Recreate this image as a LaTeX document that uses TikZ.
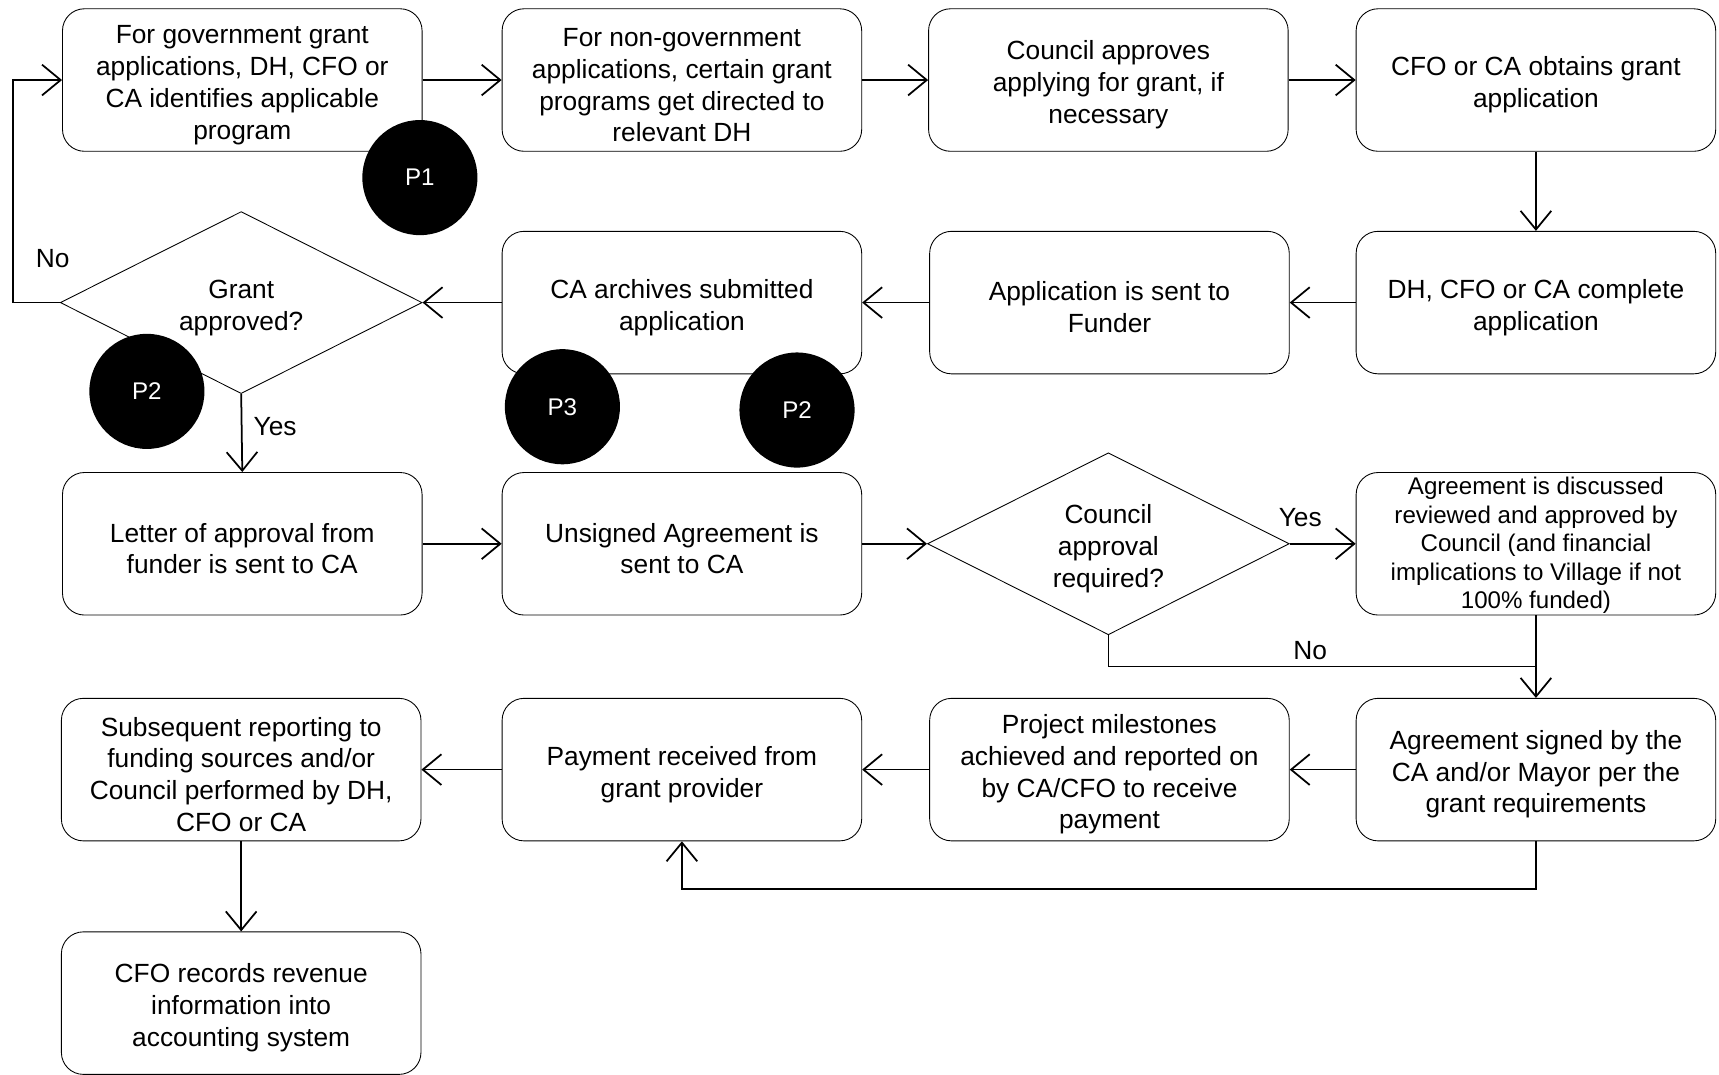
\documentclass[tikz,border=0pt]{standalone}
\usepackage{fontspec}
\setmainfont{Liberation Sans}
\usetikzlibrary{shapes.geometric,arrows.meta}
\newcommand{\topgap}{26pt}

\begin{document}
\begin{tikzpicture}[x=1pt,y=-1pt,
  box/.style={draw,rounded corners=20pt,minimum width=328pt,minimum height=130pt,
    inner sep=0pt,text width=320pt,align=flush center,line width=0.8pt,
    font=\fontsize{24}{29}\selectfont,
    execute at begin node={\noindent\rule{0pt}{\topgap}}},
  dec/.style={draw,diamond,aspect=2,minimum width=330pt,minimum height=166pt,
    inner sep=0pt,text width=150pt,align=flush center,line width=0.8pt,
    font=\fontsize{24}{29}\selectfont,
    execute at begin node={\noindent\rule{0pt}{\topgap}}},
  pnt/.style={circle,fill=black,minimum size=105pt,inner sep=0pt,text=white,
    font=\fontsize{22}{26}\selectfont},
  lbl/.style={font=\fontsize{24}{29}\selectfont},
  flow/.style={-{Straight Barb[length=17pt,width=28pt]},line width=1.6pt}]
\useasboundingbox (0,0) rectangle (1568,980);

% First row
\node[box] (ident) at (221,73) {For government grant\\applications, DH, CFO or\\CA identifies applicable\\program};
\node[box] (nongov) at (622,73) {For non-government\\applications, certain grant\\programs get directed to\\relevant DH};
\node[box] (council) at (1011,73) {Council approves\\applying for grant, if\\necessary};
\node[box] (obtain) at (1401,73) {CFO or CA obtains grant\\application};

% Second row
\node[dec] (granted) at (220,276) {Grant\\approved?};
\node[box] (archive) at (622,276) {CA archives submitted\\application};
\node[box] (sent) at (1012,276) {Application is sent to\\Funder};
\node[box] (complete) at (1401,276) {DH, CFO or CA complete\\application};

% Third row
\node[box] (letter) at (221,496) {Letter of approval from\\funder is sent to CA};
\node[box] (unsigned) at (622,496) {Unsigned Agreement is\\sent to CA};
\node[dec] (needed) at (1011,496) {Council\\approval\\required?};
\node[box,font=\fontsize{22}{26}\selectfont\def\topgap{19pt}] (discuss) at (1401,496) {Agreement is discussed\\reviewed and approved by\\Council (and financial\\implications to Village if not\\100\% funded)};

% Fourth row
\node[box] (report) at (220,702) {Subsequent reporting to\\funding sources and/or\\Council performed by DH,\\CFO or CA};
\node[box] (payment) at (622,702) {Payment received from\\grant provider};
\node[box] (milestone) at (1012,702) {Project milestones\\achieved and reported on\\by CA/CFO to receive\\payment};
\node[box] (signed) at (1401,702) {Agreement signed by the\\CA and/or Mayor per the\\grant requirements};

% Last box
\node[box] (records) at (220,915) {CFO records revenue\\information into\\accounting system};

% Connectors
\coordinate (noturn) at (12,276);
\coordinate (join) at (1401,608);
\coordinate (back) at (1401,811);
\draw[flow] (ident) -- (nongov);
\draw[flow] (nongov) -- (council);
\draw[flow] (council) -- (obtain);
\draw[flow] (obtain) -- (complete);
\draw[flow] (complete) -- (sent);
\draw[flow] (sent) -- (archive);
\draw[flow] (archive) -- (granted);
\draw[flow] (granted.west) -- (noturn) |- (ident.west);
\draw[flow] (granted.south) -- (letter.north);
\draw[flow] (letter) -- (unsigned);
\draw[flow] (unsigned) -- (needed);
\draw[flow] (needed.east) -- (discuss.west);
\draw[line width=0.8pt] (needed.south) |- (join);
\draw[flow] (discuss) -- (signed);
\draw[flow] (signed) -- (milestone);
\draw[flow] (milestone) -- (payment);
\draw[flow] (payment) -- (report);
\draw[flow] (signed.south) -- (back) -| (payment.south);
\draw[flow] (report) -- (records);

% Labels
\node[lbl] (noa) at (48,236) {No};
\node[lbl] (yesa) at (251,389) {Yes};
\node[lbl] (yesb) at (1186,472) {Yes};
\node[lbl] (nob) at (1195,593) {No};

% Markers
\node[pnt] (pone) at (383,162) {P1};
\node[pnt] (ptwoa) at (134,357) {P2};
\node[pnt] (pthree) at (513,371) {P3};
\node[pnt] (ptwob) at (727,374) {P2};
\end{tikzpicture}
\end{document}
